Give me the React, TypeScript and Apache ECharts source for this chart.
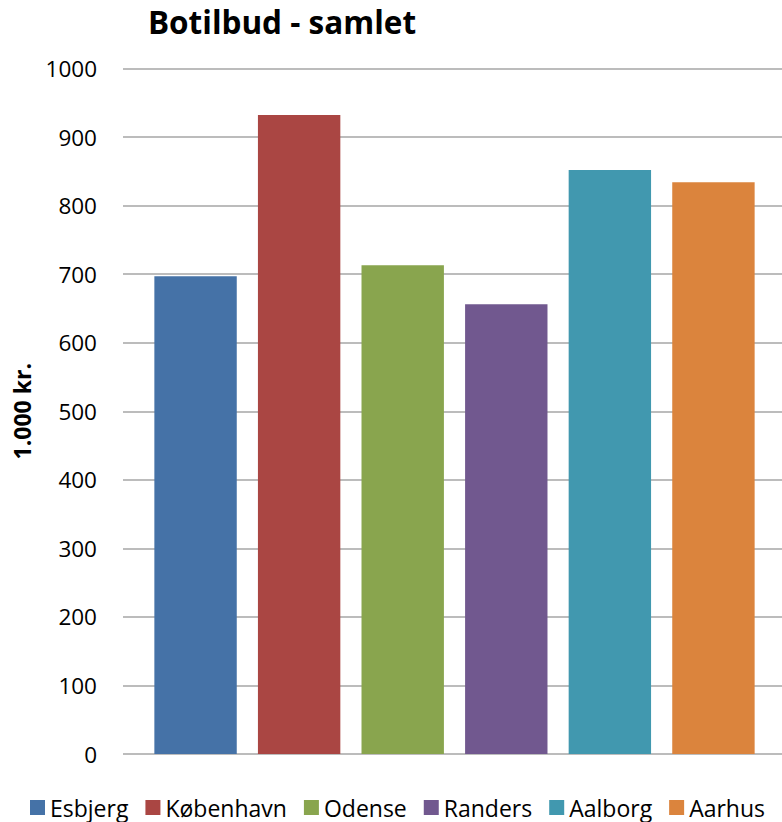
import React, { useEffect, useRef } from "react";
import * as echarts from "echarts";

const cities = ["Esbjerg", "København", "Odense", "Randers", "Aalborg", "Aarhus"];
const values = [697, 932, 713, 656, 852, 834];
const colors = ["#4572A7", "#AA4643", "#89A54E", "#71588F", "#4198AF", "#DB843D"];
const yMin = 0;
const yMax = 1000;
const yInterval = 100;
const titleText = "Botilbud - samlet";
const yName = "1.000 kr.";
const FONT = "'Open Sans', Lato, sans-serif";

export default function App() {
  const ref = useRef<HTMLDivElement>(null);
  useEffect(() => {
    if (!ref.current) return;
    const chart = echarts.init(ref.current, null, { renderer: "svg" });
    chart.setOption({
      animation: false,
      backgroundColor: "#ffffff",
      title: {
        text: titleText,
        left: 277,
        top: 0,
        textAlign: "center",
        textStyle: { fontFamily: FONT, fontWeight: "bold", fontSize: 31.5, color: "#000" },
      },
      legend: {
        left: 25,
        top: 791,
        itemWidth: 15,
        itemHeight: 15,
        itemGap: 17,
        icon: "rect",
        textStyle: { fontFamily: FONT, fontSize: 23, color: "#000" },
        data: cities,
      },
      grid: [
        { left: 123, right: 0, top: 68.5, bottom: 68, containLabel: false },
        { left: 143.7, width: 621.6, top: 68.5, bottom: 68, containLabel: false },
      ],
      xAxis: [
        {
          type: "category",
          gridIndex: 0,
          data: [""],
          axisLine: { show: false },
          axisTick: { show: false },
          axisLabel: { show: false },
        },
        {
          type: "category",
          gridIndex: 1,
          data: [""],
          axisLine: { show: false },
          axisTick: { show: false },
          axisLabel: { show: false },
        },
      ],
      yAxis: [
        {
          type: "value",
          gridIndex: 0,
          min: yMin,
          max: yMax,
          interval: yInterval,
          name: yName,
          nameLocation: "middle",
          nameGap: 90,
          nameRotate: 90,
          nameTextStyle: { fontFamily: FONT, fontWeight: "bold", fontSize: 23, color: "#000" },
          axisLine: { show: false },
          axisTick: { show: false },
          axisLabel: {
            margin: 26,
            fontFamily: FONT,
            fontSize: 22.5,
            color: "#000",
            formatter: (v: number) => String(v),
          },
          splitLine: { lineStyle: { color: "#a6a6a6", width: 1.5 } },
        },
        {
          type: "value",
          gridIndex: 1,
          min: yMin,
          max: yMax,
          interval: yInterval,
          show: false,
          splitLine: { show: false },
        },
      ],
      series: cities.map((c, i) => ({
        name: c,
        type: "bar",
        xAxisIndex: 1,
        yAxisIndex: 1,
        data: [values[i]],
        barWidth: 82.4,
        barGap: "25.7%",
        itemStyle: { color: colors[i] },
      })),
    });
    return () => chart.dispose();
  }, []);
  return (
    <div
      ref={ref}
      style={{ position: "fixed", left: 0, top: 0, width: 782, height: 822 }}
    />
  );
}
